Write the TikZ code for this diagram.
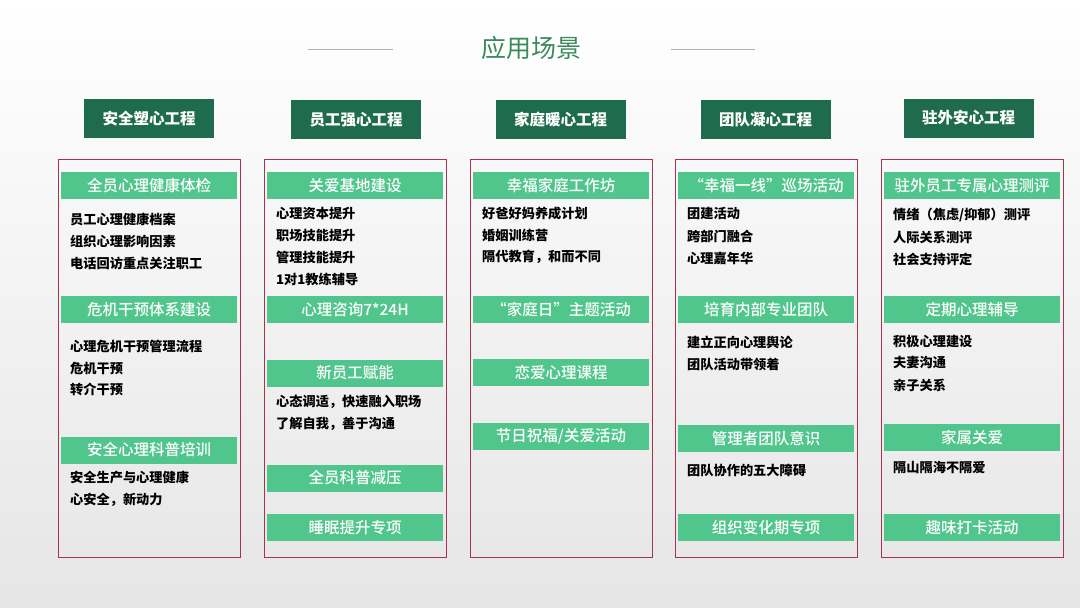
\documentclass[tikz,border=0pt]{standalone}
\usepackage{fontspec}
\setmainfont{Noto Sans CJK SC}
\newfontfamily\medfont{Noto Sans CJK SC Medium}
\usepackage{xcolor}
\definecolor{hdrgreen}{HTML}{1F6B4D}
\definecolor{bargreen}{HTML}{50C58C}
\definecolor{panelred}{HTML}{A63350}
\definecolor{titlegreen}{HTML}{3A8A5B}
\tikzset{
  hdr/.style={fill=hdrgreen,text=white,minimum width=130pt,minimum height=39pt,inner sep=0pt,font=\fontsize{15.5}{18}\selectfont\bfseries},
  panel/.style={draw=panelred,line width=0.9pt,minimum width=182pt,minimum height=398pt,anchor=north west,inner sep=0pt},
  bar/.style={fill=bargreen,text=white,minimum width=176pt,minimum height=27pt,inner sep=0pt,font=\fontsize{15.5}{18}\selectfont\medfont},
  item/.style={anchor=west,inner sep=0pt,font=\fontsize{13.2}{16}\selectfont\bfseries}
}
\begin{document}
\begin{tikzpicture}[x=1pt,y=-1pt]
\useasboundingbox (0,0) rectangle (1080,608);
\shade[top color=white,bottom color=black!10] (0,0) rectangle (1080,608);
\node[text=titlegreen,font=\fontsize{25}{30}\selectfont] (title) at (531,48) {应用场景};
\draw[gray!60,line width=1pt] (308,49) coordinate (tl1) -- (393,49) coordinate (tl2);
\draw[gray!60,line width=1pt] (671,49) coordinate (tr1) -- (755,49) coordinate (tr2);

\node[hdr] (h1) at (149,118.5) {安全塑心工程};
\node[hdr] (h2) at (356,119.5) {员工强心工程};
\node[hdr] (h3) at (560.5,119.5) {家庭暖心工程};
\node[hdr] (h4) at (765.5,119.5) {团队凝心工程};
\node[hdr] (h5) at (968.5,118) {驻外安心工程};

\node[panel] (p1) at (58,159) {};
\node[panel] (p2) at (264,159) {};
\node[panel] (p3) at (470,159) {};
\node[panel] (p4) at (675,159) {};
\node[panel] (p5) at (881,159) {};

\node[bar] (b11) at (149,185.5) {全员心理健康体检};
\node[item] (i111) at (70,219) {员工心理健康档案};
\node[item] (i112) at (70,241) {组织心理影响因素};
\node[item] (i113) at (70,263) {电话回访重点关注职工};
\node[bar] (b12) at (149,309.5) {危机干预体系建设};
\node[item] (i121) at (70,346) {心理危机干预管理流程};
\node[item] (i122) at (70,368) {危机干预};
\node[item] (i123) at (70,389) {转介干预};
\node[bar] (b13) at (149,450) {安全心理科普培训};
\node[item] (i131) at (70,478) {安全生产与心理健康};
\node[item] (i132) at (70,500) {心安全，新动力};

\node[bar] (b21) at (355,185.5) {关爱基地建设};
\node[item] (i211) at (276,213) {心理资本提升};
\node[item] (i212) at (276,235) {职场技能提升};
\node[item] (i213) at (276,257) {管理技能提升};
\node[item] (i214) at (276,279) {1对1教练辅导};
\node[bar] (b22) at (355,309.5) {心理咨询7*24H};
\node[bar] (b23) at (355,373) {新员工赋能};
\node[item] (i231) at (276,402) {心态调适，快速融入职场};
\node[item] (i232) at (276,424) {了解自我，善于沟通};
\node[bar] (b24) at (355,478) {全员科普减压};
\node[bar] (b25) at (355,527.5) {睡眠提升专项};

\node[bar] (b31) at (561,185.5) {幸福家庭工作坊};
\node[item] (i311) at (482,213) {好爸好妈养成计划};
\node[item] (i312) at (482,235) {婚姻训练营};
\node[item] (i313) at (482,257) {隔代教育，和而不同};
\node[bar] (b32) at (561,309.5) {“家庭日”主题活动};
\node[bar] (b33) at (561,372.5) {恋爱心理课程};
\node[bar] (b34) at (561,436.5) {节日祝福/关爱活动};

\node[bar] (b41) at (766,185.5) {“幸福一线”巡场活动};
\node[item] (i411) at (687,213) {团建活动};
\node[item] (i412) at (687,236) {跨部门融合};
\node[item] (i413) at (687,258) {心理嘉年华};
\node[bar] (b42) at (766,309.5) {培育内部专业团队};
\node[item] (i421) at (687,342) {建立正向心理舆论};
\node[item] (i422) at (687,364) {团队活动带领着};
\node[bar] (b43) at (766,438.5) {管理者团队意识};
\node[item] (i431) at (687,470) {团队协作的五大障碍};
\node[bar] (b44) at (766,527.5) {组织变化期专项};

\node[bar] (b51) at (972,185.5) {驻外员工专属心理测评};
\node[item] (i511) at (893,215) {情绪（焦虑/抑郁）测评};
\node[item] (i512) at (893,237) {人际关系测评};
\node[item] (i513) at (893,259) {社会支持评定};
\node[bar] (b52) at (972,309.5) {定期心理辅导};
\node[item] (i521) at (893,341) {积极心理建设};
\node[item] (i522) at (893,363) {夫妻沟通};
\node[item] (i523) at (893,385) {亲子关系};
\node[bar] (b53) at (972,437.5) {家属关爱};
\node[item] (i531) at (893,467) {隔山隔海不隔爱};
\node[bar] (b54) at (972,527.5) {趣味打卡活动};
\end{tikzpicture}
\end{document}
